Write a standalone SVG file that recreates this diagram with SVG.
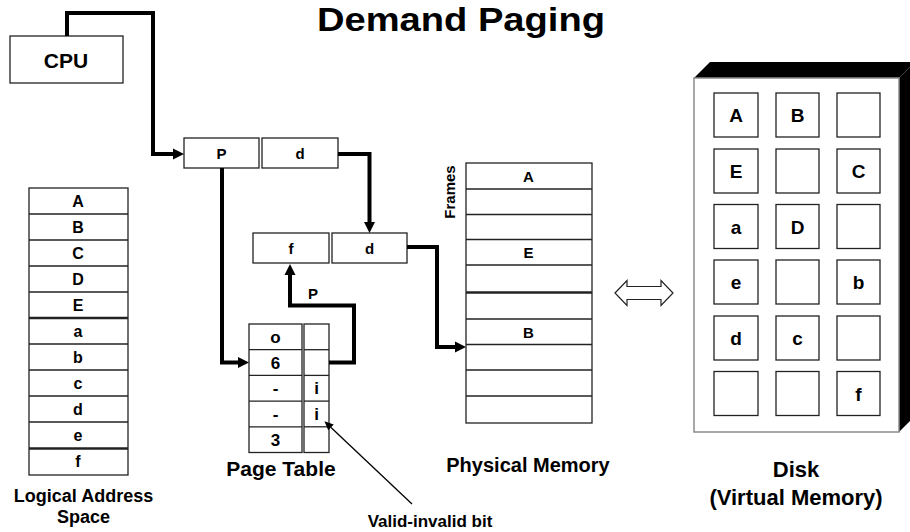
<svg xmlns="http://www.w3.org/2000/svg" width="910" height="532" viewBox="0 0 910 532">
  <style>
    text { font-family: "Liberation Sans", Arial, Helvetica, sans-serif; font-weight: bold; fill: #000; text-anchor: middle; }
    .cell { fill: #fff; stroke: #222; stroke-width: 1.3; }
    .sep { stroke: #222; stroke-width: 1.3; }
    .sep2 { stroke: #222; stroke-width: 2.4; }
    .wire { fill: none; stroke: #000; stroke-width: 4; stroke-linejoin: miter; }
    .thin { fill: none; stroke: #000; stroke-width: 1.3; }
    .c16 { font-size: 16px; }
    .c15 { font-size: 15px; }
    .c17 { font-size: 17px; }
    .c19 { font-size: 19px; }
  </style>
  <defs>
    <marker id="head" markerUnits="userSpaceOnUse" markerWidth="12" markerHeight="12" refX="0" refY="6" orient="auto">
      <path d="M0,0.5 L11,6 L0,11.5 Z" fill="#000"/>
    </marker>
    <marker id="headSmall" markerUnits="userSpaceOnUse" markerWidth="10" markerHeight="10" refX="0" refY="4" orient="auto">
      <path d="M0,0 L9,4 L0,8 Z" fill="#000"/>
    </marker>
  </defs>

  <rect width="910" height="532" fill="#fff"/>

  <!-- Title -->
  <text id="title" x="461" y="31" font-size="34" textLength="288" lengthAdjust="spacingAndGlyphs">Demand Paging</text>

  <!-- CPU -->
  <g id="cpu">
    <rect class="cell" x="10" y="36" width="113" height="47"/>
    <text x="66" y="68" font-size="21">CPU</text>
  </g>

  <!-- Logical address (p, d) -->
  <g id="logical-address">
    <rect class="cell" x="184" y="138" width="75" height="30"/>
    <rect class="cell" x="262" y="138" width="76" height="30"/>
    <text class="c15" x="221.5" y="158.5">P</text>
    <text class="c15" x="300" y="158.5">d</text>
  </g>

  <!-- Physical address (f, d) -->
  <g id="physical-address">
    <rect class="cell" x="253" y="233" width="76" height="30"/>
    <rect class="cell" x="332" y="233" width="75" height="30"/>
    <text class="c15" x="291" y="253.5">f</text>
    <text class="c15" x="369.5" y="253.5">d</text>
  </g>

  <!-- Logical address space -->
  <g id="logical-space">
    <rect class="cell" x="29" y="188" width="99" height="287"/>
    <line class="sep" x1="29" x2="128" y1="214" y2="214"/>
    <line class="sep" x1="29" x2="128" y1="240" y2="240"/>
    <line class="sep" x1="29" x2="128" y1="266" y2="266"/>
    <line class="sep" x1="29" x2="128" y1="292" y2="292"/>
    <line class="sep2" x1="29" x2="128" y1="318" y2="318"/>
    <line class="sep" x1="29" x2="128" y1="344" y2="344"/>
    <line class="sep" x1="29" x2="128" y1="370" y2="370"/>
    <line class="sep" x1="29" x2="128" y1="396" y2="396"/>
    <line class="sep" x1="29" x2="128" y1="422" y2="422"/>
    <line class="sep2" x1="29" x2="128" y1="448.5" y2="448.5"/>
    <text class="c16" x="78" y="206.7">A</text>
    <text class="c16" x="78" y="232.7">B</text>
    <text class="c16" x="78" y="258.7">C</text>
    <text class="c16" x="78" y="284.7">D</text>
    <text class="c16" x="78" y="310.7">E</text>
    <text class="c16" x="78" y="336.7">a</text>
    <text class="c16" x="78" y="362.7">b</text>
    <text class="c16" x="78" y="388.7">c</text>
    <text class="c16" x="78" y="414.7">d</text>
    <text class="c16" x="78" y="440.7">e</text>
    <text class="c16" x="78" y="467.2">f</text>
    <text x="83.5" y="502" font-size="18">Logical Address</text>
    <text x="83.5" y="523" font-size="18">Space</text>
  </g>

  <!-- Page table -->
  <g id="page-table">
    <rect class="cell" x="249" y="324" width="53" height="128.5"/>
    <rect class="cell" x="304" y="324" width="25" height="128.5"/>
    <line class="sep" x1="249" x2="302" y1="349.7" y2="349.7"/>
    <line class="sep" x1="249" x2="302" y1="375.4" y2="375.4"/>
    <line class="sep" x1="249" x2="302" y1="401.1" y2="401.1"/>
    <line class="sep" x1="249" x2="302" y1="426.8" y2="426.8"/>
    <line class="sep" x1="304" x2="329" y1="349.7" y2="349.7"/>
    <line class="sep" x1="304" x2="329" y1="375.4" y2="375.4"/>
    <line class="sep" x1="304" x2="329" y1="401.1" y2="401.1"/>
    <line class="sep" x1="304" x2="329" y1="426.8" y2="426.8"/>
    <text class="c17" x="275.5" y="343">o</text>
    <text class="c17" x="275.5" y="368.7">6</text>
    <text class="c17" x="275.5" y="394.4">-</text>
    <text class="c17" x="275.5" y="420.1">-</text>
    <text class="c17" x="275.5" y="445.8">3</text>
    <text class="c17" x="316.5" y="394.4">i</text>
    <text class="c17" x="316.5" y="420.1">i</text>
    <text x="281" y="476" font-size="21">Page Table</text>
  </g>

  <!-- Physical memory -->
  <g id="physical-memory">
    <rect class="cell" x="466" y="163" width="126" height="260"/>
    <line class="sep" x1="466" x2="592" y1="189" y2="189"/>
    <line class="sep" x1="466" x2="592" y1="214.5" y2="214.5"/>
    <line class="sep" x1="466" x2="592" y1="239.5" y2="239.5"/>
    <line class="sep" x1="466" x2="592" y1="265" y2="265"/>
    <line class="sep2" x1="466" x2="592" y1="292.5" y2="292.5"/>
    <line class="sep" x1="466" x2="592" y1="319" y2="319"/>
    <line class="sep" x1="466" x2="592" y1="344.5" y2="344.5"/>
    <line class="sep" x1="466" x2="592" y1="370" y2="370"/>
    <line class="sep" x1="466" x2="592" y1="396" y2="396"/>
    <text class="c15" x="528.5" y="181.5">A</text>
    <text class="c15" x="528.5" y="257.5">E</text>
    <text class="c15" x="528.5" y="337.5">B</text>
    <text transform="translate(454.5,192) rotate(-90)" font-size="15">Frames</text>
    <text x="528" y="472" font-size="20">Physical Memory</text>
  </g>

  <!-- Paging in/out between memory and disk -->
  <g id="swap-arrow">
    <path d="M615,293 L627,280.5 L627,286.5 L661,286.5 L661,280.5 L673,293 L661,305.5 L661,299.5 L627,299.5 L627,305.5 Z" fill="#fff" stroke="#222" stroke-width="1.2"/>
  </g>

  <!-- Disk (virtual memory) -->
  <g id="disk">
    <path d="M694,78 L710,62 L915,62 L899,78 Z" fill="#000"/>
    <path d="M899,78 L915,62 L915,416 L899,432 Z" fill="#000"/>
    <rect x="694" y="78" width="205" height="354" fill="#fff" stroke="#8c8c8c" stroke-width="1.5"/>
    <g class="slots">
      <rect class="cell" x="714" y="93" width="44" height="44"/>
      <rect class="cell" x="776" y="93" width="43" height="44"/>
      <rect class="cell" x="837" y="93" width="43" height="44"/>
      <rect class="cell" x="714" y="149" width="44" height="44"/>
      <rect class="cell" x="776" y="149" width="43" height="44"/>
      <rect class="cell" x="837" y="149" width="43" height="44"/>
      <rect class="cell" x="714" y="204.5" width="44" height="44"/>
      <rect class="cell" x="776" y="204.5" width="43" height="44"/>
      <rect class="cell" x="837" y="204.5" width="43" height="44"/>
      <rect class="cell" x="714" y="260" width="44" height="44"/>
      <rect class="cell" x="776" y="260" width="43" height="44"/>
      <rect class="cell" x="837" y="260" width="43" height="44"/>
      <rect class="cell" x="714" y="316" width="44" height="44"/>
      <rect class="cell" x="776" y="316" width="43" height="44"/>
      <rect class="cell" x="837" y="316" width="43" height="44"/>
      <rect class="cell" x="714" y="371.5" width="44" height="44"/>
      <rect class="cell" x="776" y="371.5" width="43" height="44"/>
      <rect class="cell" x="837" y="371.5" width="43" height="44"/>
    </g>
    <text class="c19" x="736" y="122">A</text>
    <text class="c19" x="797.5" y="122">B</text>
    <text class="c19" x="736" y="178">E</text>
    <text class="c19" x="858.5" y="178">C</text>
    <text class="c19" x="736" y="233.5">a</text>
    <text class="c19" x="797.5" y="233.5">D</text>
    <text class="c19" x="736" y="289">e</text>
    <text class="c19" x="858.5" y="289">b</text>
    <text class="c19" x="736" y="345">d</text>
    <text class="c19" x="797.5" y="345">c</text>
    <text class="c19" x="858.5" y="400.5">f</text>
    <text x="796" y="477" font-size="22">Disk</text>
    <text x="796" y="505" font-size="22">(Virtual Memory)</text>
  </g>

  <!-- Valid-invalid bit label -->
  <g id="valid-label">
    <text x="430" y="527" font-size="17">Valid-invalid bit</text>
  </g>

  <!-- Connectors -->
  <g id="connectors">
    <path class="wire" d="M67,36 V13 H153 V154 H173" marker-end="url(#head)"/>
    <path class="wire" d="M338,154 H369.5 V222" marker-end="url(#head)"/>
    <path class="wire" d="M222,168 V362.5 H238" marker-end="url(#head)"/>
    <path class="wire" d="M329,362.5 H354 V305.5 H290 V275" marker-end="url(#head)"/>
    <path class="wire" d="M407,247 H437 V347 H455" marker-end="url(#head)"/>
    <path class="thin" d="M412,504 L331,427.5" marker-end="url(#headSmall)"/>
    <text class="c15" x="313" y="299">P</text>
  </g>
</svg>
